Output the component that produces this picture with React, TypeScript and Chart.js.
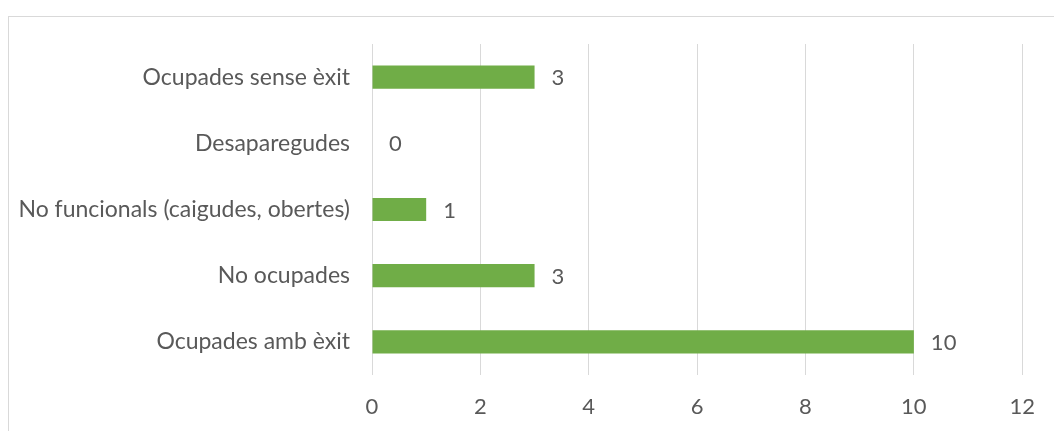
import React, { useEffect, useRef } from "react";
import { Chart, registerables } from "chart.js";

Chart.register(...registerables);

const categories = [
  "Ocupades sense èxit",
  "Desaparegudes",
  "No funcionals (caigudes, obertes)",
  "No ocupades",
  "Ocupades amb èxit",
];
const values = [3, 0, 1, 3, 10];
const xTicks = [0, 2, 4, 6, 8, 10, 12];

const FONT = "Lato, 'Open Sans', sans-serif";
const TEXT = "#595959";

const valueLabels = {
  id: "valueLabels",
  afterDatasetsDraw(chart: any) {
    const ctx = chart.ctx;
    const meta = chart.getDatasetMeta(0);
    ctx.save();
    ctx.fillStyle = TEXT;
    ctx.font = `22px ${FONT}`;
    ctx.textAlign = "left";
    ctx.textBaseline = "middle";
    meta.data.forEach((bar: any, i: number) => {
      ctx.fillText(String(values[i]), bar.x + 17, bar.y + 1);
    });
    ctx.restore();
  },
};

export default function App() {
  const ref = useRef<HTMLCanvasElement>(null);
  useEffect(() => {
    const chart = new Chart(ref.current!, {
      type: "bar",
      data: {
        labels: categories,
        datasets: [
          {
            data: values,
            backgroundColor: "#70AD47",
            borderWidth: 0,
            categoryPercentage: 1,
            barPercentage: 0.35,
          },
        ],
      },
      options: {
        indexAxis: "y",
        animation: false,
        responsive: false,
        devicePixelRatio: 1,
        layout: { padding: { top: 44, right: 25, left: 0, bottom: 0 } },
        plugins: { legend: { display: false }, tooltip: { enabled: false } },
        scales: {
          x: {
            min: 0,
            max: 12,
            afterBuildTicks: (s: any) => {
              s.ticks = xTicks.map((v) => ({ value: v }));
            },
            grid: { color: "#d9d9d9", lineWidth: 1, drawTicks: false },
            border: { display: false },
            ticks: {
              color: TEXT,
              font: { family: FONT, size: 22 },
              padding: 19,
            },
            afterFit: (s: any) => {
              s.height = 56;
            },
          },
          y: {
            grid: { display: false, drawTicks: false },
            border: { display: false },
            ticks: {
              color: TEXT,
              font: { family: FONT, size: 23 },
              padding: 22,
            },
            afterFit: (s: any) => {
              s.width = 372;
            },
          },
        },
      },
      plugins: [valueLabels],
    });
    return () => chart.destroy();
  }, []);

  return (
    <div
      style={{
        position: "fixed",
        left: 0,
        top: 0,
        width: 1054,
        height: 431,
        overflow: "hidden",
        background: "#fff",
      }}
    >
      <div
        style={{
          position: "absolute",
          left: 8,
          top: 16,
          width: 1100,
          height: 500,
          border: "1px solid #d9d9d9",
        }}
      />
      <canvas
        ref={ref}
        width={1054}
        height={431}
        style={{ position: "absolute", left: 0, top: 0, width: 1054, height: 431 }}
      />
    </div>
  );
}
